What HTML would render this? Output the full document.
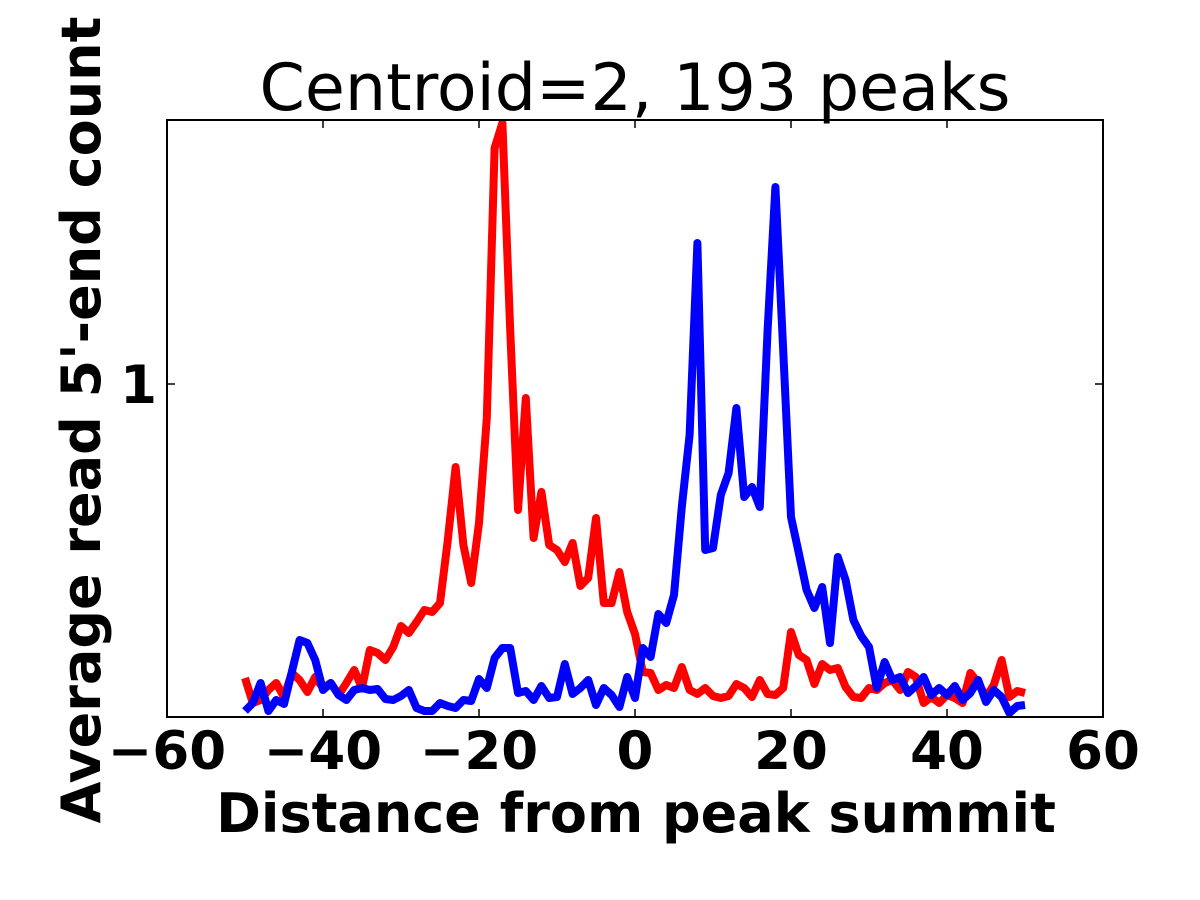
<!DOCTYPE html>
<html><head><meta charset="utf-8"><style>
body{margin:0;background:#fff;}
svg{display:block;font-family:"DejaVu Sans","Liberation Sans",sans-serif;}
</style></head><body>
<svg id="chart" width="1200" height="900">
<defs><clipPath id="clip"><rect x="167" y="120" width="936" height="597"/></clipPath></defs>
<text x="635" y="110" text-anchor="middle" font-size="65">Centroid=2, 193 peaks</text>
<g id="series" clip-path="url(#clip)"></g>
<rect x="167" y="120" width="936" height="597" fill="none" stroke="#000" stroke-width="2"/>
<g id="axes"></g>
<text x="636" y="832" text-anchor="middle" font-size="54" font-weight="bold">Distance from peak summit</text>
<text transform="translate(100,420) rotate(-90)" text-anchor="middle" font-size="54" font-weight="bold">Average read 5'-end count</text>
</svg>
<script>
const xs=[];for(let i=-50;i<=50;i++)xs.push(i);
const redPx=[678,703,700,690,683,697,673,680,692,677,688,683,695,683,670,688,650,653,660,647,626,633,622,610,612,603,540,467,545,583,523,418,148,123,330,510,398,538,492,545,550,562,543,586,578,518,603,603,572,612,634,672,673,690,685,688,667,690,694,688,696,698,696,684,688,697,680,694,695,688,632,655,660,684,664,670,668,687,697,698,688,690,683,680,690,672,677,703,697,703,695,698,703,673,683,697,685,660,697,691,693];
const bluePx=[711,703,683,711,700,704,672,640,643,660,690,683,695,700,690,688,690,689,699,700,696,690,708,711,711,703,706,708,700,701,679,688,658,648,648,693,691,700,686,698,697,664,694,688,680,705,688,695,707,677,698,648,657,614,623,595,507,435,243,550,548,495,473,408,497,487,507,330,187,350,517,553,590,608,587,643,557,580,620,636,647,688,662,680,677,693,686,677,695,688,695,686,700,693,680,702,690,697,713,706,705];
const redVals=redPx.map(p=>(717-p)/333);
const blueVals=bluePx.map(p=>(717-p)/333);
const xTicks=[-60,-40,-20,0,20,40,60];
const yTicks=[1];
const xS=v=>167+(v+60)*7.8;
const yS=v=>717-v*333;
const NS="http://www.w3.org/2000/svg";
const g=document.getElementById('series'),ax=document.getElementById('axes');
function line(vals,color,name){
  const p=document.createElementNS(NS,'polyline');
  p.setAttribute('points',vals.map((v,i)=>xS(xs[i])+','+yS(v)).join(' '));
  p.setAttribute('fill','none');p.setAttribute('stroke',color);p.setAttribute('stroke-width','8');p.setAttribute('stroke-linejoin','round');
  
  
  g.appendChild(p);
}
line(redVals,'#ff0000','red-series-line');
line(blueVals,'#0000ff','blue-series-line');
xTicks.forEach(t=>{
  const x=xS(t);
  [[717,709],[120,128]].forEach(([a,b])=>{const l=document.createElementNS(NS,'line');l.setAttribute('x1',x);l.setAttribute('x2',x);l.setAttribute('y1',a);l.setAttribute('y2',b);l.setAttribute('stroke','#000');l.setAttribute('stroke-width','1.5');ax.appendChild(l);});
  const tx=document.createElementNS(NS,'text');tx.setAttribute('x',x);tx.setAttribute('y',769);tx.setAttribute('text-anchor','middle');tx.setAttribute('font-size','53');tx.setAttribute('font-weight','bold');
  tx.textContent=(t<0?'\u2212'+(-t):''+t);
  
  
  ax.appendChild(tx);
});
yTicks.forEach(t=>{
  const y=yS(t);
  [[167,175],[1103,1095]].forEach(([a,b])=>{const l=document.createElementNS(NS,'line');l.setAttribute('x1',a);l.setAttribute('x2',b);l.setAttribute('y1',y);l.setAttribute('y2',y);l.setAttribute('stroke','#000');l.setAttribute('stroke-width','1.5');ax.appendChild(l);});
  const tx=document.createElementNS(NS,'text');tx.setAttribute('x',157);tx.setAttribute('y',y+19);tx.setAttribute('text-anchor','end');tx.setAttribute('font-size','53');tx.setAttribute('font-weight','bold');
  tx.textContent=t;
  
  
  ax.appendChild(tx);
});
</script>
</body></html>
